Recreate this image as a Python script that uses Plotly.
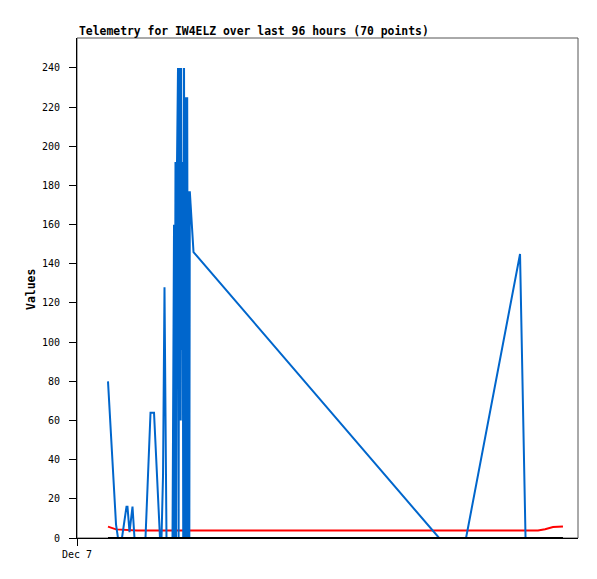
import plotly.graph_objects as go

# Time in hours since Dec 7 00:00
blue_t = [6.54, 8.23, 8.65, 9.49, 10.44, 10.65, 11.08, 11.71, 12.13, 14.45, 15.51, 16.25,
          17.51, 17.83, 18.15, 18.46, 18.67, 18.88, 20.15, 20.47, 20.57, 20.78, 20.89,
          21.10, 21.31, 21.44, 21.58, 21.88, 21.98, 22.09, 22.28, 22.41, 22.58, 22.79,
          22.89, 23.10, 23.25, 23.42, 23.53, 23.70, 23.80, 24.58, 76.40, 82.08, 93.47, 94.63]
blue_v = [80, 7, 0, 0, 16, 16, 3, 16, 0, 0, 64, 64,
          0, 0, 32, 128, 64, 0, 0, 160, 0, 192, 0,
          192, 240, 0, 240, 60, 240, 96, 192, 0, 240, 0,
          225, 0, 225, 0, 177, 0, 177, 146, 0, 0, 145, 0]

red_t = [6.54, 7.38, 8.23, 12.66, 97.27, 98.75, 100.43, 102.53]
red_v = [5.8, 5.1, 4.4, 3.8, 3.8, 4.5, 5.6, 5.9]

black_t = [6.54, 102.53]
black_v = [0, 0]

x_tick_vals = [0]
x_tick_text = ["Dec 7"]
y_tick_vals = list(range(0, 241, 20))

title_text = "Telemetry for IW4ELZ over last 96 hours (70 points)"

fig = go.Figure()
fig.add_trace(go.Scatter(x=red_t, y=red_v, mode="lines",
                         line=dict(color="#ff0000", width=2), showlegend=False))
fig.add_trace(go.Scatter(x=blue_t, y=blue_v, mode="lines",
                         line=dict(color="#0066cc", width=2), showlegend=False))
fig.add_trace(go.Scatter(x=black_t, y=black_v, mode="lines",
                         line=dict(color="#000000", width=2), showlegend=False))

fig.update_layout(
    width=589, height=571,
    margin=dict(l=69, r=19, t=30, b=41),
    paper_bgcolor="white", plot_bgcolor="white",
    font=dict(family="DejaVu Sans Mono", size=10, color="black"),
    xaxis=dict(range=[0, 105.7], tickvals=x_tick_vals, ticktext=x_tick_text,
               ticks="outside", ticklen=7, tickcolor="black", showgrid=False,
               zeroline=False, showline=True, linecolor="black", linewidth=1,
               tickfont=dict(size=10)),
    yaxis=dict(range=[0, 255.3], tickvals=y_tick_vals,
               ticks="outside", ticklen=7, tickcolor="black", showgrid=False,
               zeroline=False, showline=True, linecolor="black", linewidth=1,
               ticklabelstandoff=7, tickfont=dict(size=10)),
    shapes=[dict(type="rect", xref="paper", yref="paper", x0=0, y0=0, x1=1, y1=1,
                 line=dict(color="#555555", width=1), layer="below")],
    annotations=[
        dict(text="<b>" + title_text + "</b>", xref="paper", yref="paper",
             x=0, y=1.014, xanchor="left", yanchor="middle", showarrow=False,
             font=dict(family="DejaVu Sans Mono", size=11.4, color="black")),
        dict(text="<b>Values</b>", xref="paper", yref="paper", x=-0.092, y=0.498,
             xanchor="center", yanchor="middle", textangle=-90, showarrow=False,
             font=dict(family="DejaVu Sans Mono", size=11.4, color="black")),
    ],
)

fig.write_html("out.html")
